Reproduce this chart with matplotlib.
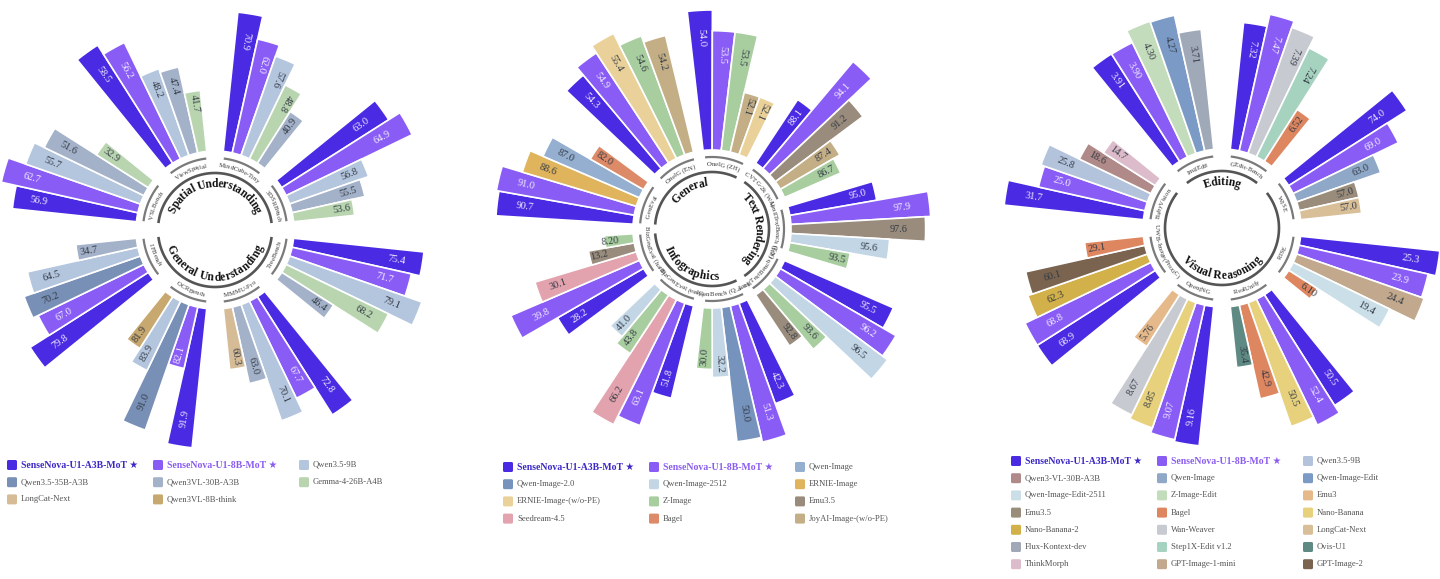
import numpy as np
import matplotlib.pyplot as plt
from matplotlib.font_manager import FontProperties
from matplotlib.patches import FancyBboxPatch

plt.rcParams['font.family'] = ['Liberation Serif', 'DejaVu Sans']

A3B = 'SenseNova-U1-A3B-MoT'
B8 = 'SenseNova-U1-8B-MoT'

# ---------------- understanding
und_cats = ['Spatial Understanding', 'General Understanding']
und_cat_sizes = [4, 4]
und_bench = ['VSI-Bench', 'ViewSpatial', 'MindCube-Tiny', '3DSRBench',
             'TreeBench', 'MMMU-Pro', 'OCRBench', 'IFBench']
und_models = [
    [A3B, B8, 'Qwen3.5-9B', 'Qwen3VL-30B-A3B', 'Gemma-4-26B-A4B'],
    [A3B, B8, 'Qwen3.5-9B', 'Qwen3VL-30B-A3B', 'Gemma-4-26B-A4B'],
    [A3B, B8, 'Qwen3.5-9B', 'Gemma-4-26B-A4B', 'Qwen3VL-30B-A3B'],
    [A3B, B8, 'Qwen3.5-9B', 'Qwen3VL-30B-A3B', 'Gemma-4-26B-A4B'],
    [A3B, B8, 'Qwen3.5-9B', 'Gemma-4-26B-A4B', 'Qwen3VL-30B-A3B'],
    [A3B, B8, 'Qwen3.5-9B', 'Qwen3VL-30B-A3B', 'LongCat-Next'],
    [A3B, B8, 'Qwen3.5-35B-A3B', 'Qwen3.5-9B', 'Qwen3VL-8B-think'],
    [A3B, B8, 'Qwen3.5-35B-A3B', 'Qwen3.5-9B', 'Qwen3VL-30B-A3B'],
]
und_scores = [
    [56.9, 62.7, 55.7, 51.6, 32.9],
    [58.5, 56.2, 48.2, 47.4, 41.7],
    [70.9, 62.0, 57.6, 48.8, 40.9],
    [63.0, 64.9, 56.8, 55.5, 53.6],
    [75.4, 71.7, 79.1, 68.2, 46.4],
    [72.8, 67.7, 70.1, 63.0, 60.3],
    [91.9, 82.1, 91.0, 83.9, 81.9],
    [79.8, 67.0, 70.2, 64.5, 34.7],
]
und_legend = [A3B, B8, 'Qwen3.5-9B', 'Qwen3.5-35B-A3B', 'Qwen3VL-30B-A3B',
              'Gemma-4-26B-A4B', 'LongCat-Next', 'Qwen3VL-8B-think']
und_colors = ['#4a2ae2', '#8a5cf6', '#b4c5de', '#7890b6', '#a3b1c9',
              '#b8d5b0', '#d5bc97', '#c7a86f']

# ---------------- generation
gen_cats = ['General', 'Text Rendering', 'Infographics']
gen_cat_sizes = [3, 3, 3]
gen_bench = ['GenEval', 'OneIG (EN)', 'OneIG (ZH)', 'CVTG-2k (WA)',
             'LongTextBench (EN)', 'LongTextBench (ZH)', 'IGenBench (Q_acc)',
             'BizGenEval (easy)', 'BizGenEval (hard)']
gen_models = [
    [A3B, B8, 'ERNIE-Image', 'Qwen-Image', 'Bagel'],
    [A3B, B8, 'ERNIE-Image-(w/o-PE)', 'Z-Image', 'JoyAI-Image-(w/o-PE)'],
    [A3B, B8, 'Z-Image', 'JoyAI-Image-(w/o-PE)', 'ERNIE-Image-(w/o-PE)'],
    [A3B, B8, 'Emu3.5', 'JoyAI-Image-(w/o-PE)', 'Z-Image'],
    [A3B, B8, 'Emu3.5', 'Qwen-Image-2512', 'Z-Image'],
    [A3B, B8, 'Qwen-Image-2512', 'Z-Image', 'Emu3.5'],
    [A3B, B8, 'Qwen-Image-2.0', 'Qwen-Image-2512', 'Z-Image'],
    [A3B, B8, 'Seedream-4.5', 'Z-Image', 'Qwen-Image-2512'],
    [A3B, B8, 'Seedream-4.5', 'Emu3.5', 'Z-Image'],
]
gen_scores = [
    [90.7, 91.0, 88.6, 87.0, 82.0],
    [54.3, 54.9, 55.4, 54.6, 54.2],
    [54.0, 53.5, 53.5, 52.1, 52.1],
    [88.1, 94.1, 91.2, 87.4, 86.7],
    [95.0, 97.9, 97.6, 95.6, 93.5],
    [95.5, 96.2, 96.5, 93.6, 92.8],
    [42.3, 51.3, 50.0, 32.2, 30.0],
    [51.8, 63.1, 66.2, 43.8, 41.0],
    [28.2, 39.8, 30.1, 13.2, 8.20],
]
gen_legend = [A3B, B8, 'Qwen-Image', 'Qwen-Image-2.0', 'Qwen-Image-2512',
              'ERNIE-Image', 'ERNIE-Image-(w/o-PE)', 'Z-Image', 'Emu3.5',
              'Seedream-4.5', 'Bagel', 'JoyAI-Image-(w/o-PE)']
gen_colors = ['#4a2ae2', '#8a5cf6', '#94afcf', '#7593bd', '#c2d6e6',
              '#e0b45c', '#ead199', '#a8cd9f', '#9a8c7c',
              '#e3a3ae', '#dd8a68', '#c3ae85']

# ---------------- editing / reasoning
edt_cats = ['Editing', 'Visual Reasoning']
edt_cat_sizes = [2, 6]
edt_bench = ['ImgEdit', 'GEdit-Bench', 'WISE', 'RISE', 'RealUnify',
             'OpenING', 'UWB-Image(ProxiC)', 'BabyVision']
edt_models = [
    [A3B, B8, 'Z-Image-Edit', 'Qwen-Image-Edit', 'Flux-Kontext-dev'],
    [A3B, B8, 'Wan-Weaver', 'Step1X-Edit v1.2', 'Bagel'],
    [A3B, B8, 'Qwen-Image', 'Emu3.5', 'LongCat-Next'],
    [A3B, B8, 'GPT-Image-1-mini', 'Qwen-Image-Edit-2511', 'Bagel'],
    [A3B, B8, 'Nano-Banana', 'Bagel', 'Ovis-U1'],
    [A3B, B8, 'Nano-Banana', 'Wan-Weaver', 'Emu3'],
    [A3B, B8, 'Nano-Banana-2', 'GPT-Image-2', 'Bagel'],
    [A3B, B8, 'Qwen3.5-9B', 'Qwen3-VL-30B-A3B', 'ThinkMorph'],
]
edt_scores = [
    [3.91, 3.90, 4.30, 4.27, 3.71],
    [7.32, 7.47, 7.39, 7.24, 6.52],
    [74.0, 69.0, 63.0, 57.0, 57.0],
    [25.3, 23.9, 24.4, 19.4, 6.10],
    [50.5, 52.4, 50.5, 42.9, 35.4],
    [9.16, 9.07, 8.85, 8.67, 5.76],
    [68.9, 68.8, 62.3, 60.1, 29.1],
    [31.7, 25.0, 25.8, 18.6, 14.7],
]
edt_legend = [A3B, B8, 'Qwen3.5-9B', 'Qwen3-VL-30B-A3B', 'Qwen-Image',
              'Qwen-Image-Edit', 'Qwen-Image-Edit-2511', 'Z-Image-Edit', 'Emu3',
              'Emu3.5', 'Bagel', 'Nano-Banana', 'Nano-Banana-2', 'Wan-Weaver',
              'LongCat-Next', 'Flux-Kontext-dev', 'Step1X-Edit v1.2', 'Ovis-U1',
              'ThinkMorph', 'GPT-Image-1-mini', 'GPT-Image-2']
edt_colors = ['#4a2ae2', '#8a5cf6', '#b3c3db', '#b08a88', '#8fa8c8',
              '#7b9bc6', '#cadfe8', '#c3dcbc', '#e6b98a',
              '#9a8c7a', '#dd8660', '#e8d17c', '#d2b04a', '#c7cad0',
              '#d8bf98', '#a0a9b8', '#a6d2c0', '#5f8a84',
              '#dcbccb', '#c2a88c', '#7a6450']

# axis floors that do not follow the default rule
floors = {'OneIG (EN)': 47.0, 'ImgEdit': 0.0}

W, H, DPI = 1440, 579, 100
HALF = 230          # polar radius in px (1 unit = 1 px)
R0, L = 79, 140     # bar start and full bar length
BW = 6.6            # bar width in degrees

fig = plt.figure(figsize=(W / DPI, H / DPI), dpi=DPI)
renderer = fig.canvas.get_renderer()

val_prop = FontProperties(family=['Liberation Serif'], size=7.4)
lab_prop = FontProperties(family=['Liberation Serif'], size=4.9)
cat_prop = FontProperties(family=['Liberation Serif'], size=8.3, weight='bold')


def advance(t, prop):
    w1 = renderer.get_text_width_height_descent(t + '|', prop, ismath=False)[0]
    w0 = renderer.get_text_width_height_descent('|', prop, ismath=False)[0]
    return w1 - w0


def arc_text(ax, s, theta_c, r, prop, color):
    flip = 90 < theta_c % 360 < 270
    total = advance(s, prop)
    size_px = prop.get_size_in_points() * DPI / 72
    rb = r + 0.33 * size_px if flip else r - 0.33 * size_px
    for i, ch in enumerate(s):
        if ch == ' ':
            continue
        mid = (advance(s[:i], prop) + advance(s[:i + 1], prop)) / 2 - total / 2
        d = np.degrees(mid / r)
        th = theta_c - d if flip else theta_c + d
        rot = 180 - th if flip else -th
        ax.text(np.radians(th), rb, ch, rotation=rot, rotation_mode='anchor',
                ha='center', va='baseline', fontproperties=prop, color=color)


def arc(ax, a0, a1, r, color, lw):
    t = np.radians(np.linspace(a0, a1, 80))
    ax.plot(t, np.full_like(t, r), color=color, lw=lw, solid_capstyle='butt')


def fmt(v):
    return f'{v:.2f}' if v < 10 else f'{v:.1f}'


def panel(cx, cy, start, bench, cats, cat_sizes, models, scores, legend, colors):
    ax = fig.add_axes([(cx - HALF) / W, (H - cy - HALF) / H, 2 * HALF / W, 2 * HALF / H],
                      projection='polar')
    ax.set_theta_zero_location('N')
    ax.set_theta_direction(-1)
    ax.set_ylim(0, HALF)
    ax.axis('off')
    step = 360 / len(bench)
    col = dict(zip(legend, colors))
    for i, (b, ms, vs) in enumerate(zip(bench, models, scores)):
        c = start + i * step
        vs = np.array(vs, dtype=float)
        lo = floors.get(b, max(0.0, vs.min() - 0.78 * (vs.max() - vs.min())))
        h = (vs - lo) / (vs.max() - lo) * L
        gw = BW * len(vs)
        th = c - gw / 2 + BW * (np.arange(len(vs)) + 0.5)
        ax.bar(np.radians(th), h, width=np.radians(BW), bottom=R0,
               color=[col[m] for m in ms], edgecolor='white', linewidth=1.2)
        for t, hh, v, m in zip(th, h, vs, ms):
            a = 90 - t
            a = (a + 180) % 360 - 180
            if a > 58:
                a -= 180
            elif a < -90:
                a += 180
            tc = '#f4f0ff' if m in (A3B, B8) else '#333a44'
            ax.text(np.radians(t), R0 + 0.8 * hh, fmt(v), rotation=a,
                    rotation_mode='anchor', ha='center', va='center',
                    fontproperties=val_prop, color=tc)
        arc(ax, c - gw / 2 + 1, c + gw / 2 - 1, 72, '#7a7a7a', 1.6)
        arc_text(ax, b, c, 65, lab_prop, '#333333')
    k = 0
    for name, n in zip(cats, cat_sizes):
        c0 = start + k * step - BW * 5 / 2
        c1 = start + (k + n - 1) * step + BW * 5 / 2
        arc(ax, c0 + 1, c1 - 1, 57, '#555555', 1.9)
        arc_text(ax, name, (c0 + c1) / 2, 47, cat_prop, '#111111')
        k += n


panel(215, 230, -67.5, und_bench, und_cats, und_cat_sizes, und_models,
      und_scores, und_legend, und_colors)
panel(712, 229, -70, gen_bench, gen_cats, gen_cat_sizes, gen_models,
      gen_scores, gen_legend, gen_colors)
panel(1222, 228, -22.5, edt_bench, edt_cats, edt_cat_sizes, edt_models,
      edt_scores, edt_legend, edt_colors)

# legends
lax = fig.add_axes([0, 0, 1, 1])
lax.set_xlim(0, W)
lax.set_ylim(H, 0)
lax.axis('off')
name_colors = {A3B: '#3b27c4', B8: '#8a5cf0'}


def legend(x0, y0, names, colors):
    for k, (n, c) in enumerate(zip(names, colors)):
        x = x0 + (k % 3) * 146
        y = y0 + (k // 3) * 17.2
        lax.add_patch(FancyBboxPatch((x, y - 5), 10, 10,
                                     boxstyle='round,pad=0,rounding_size=1.5',
                                     fc=c, ec='none'))
        if n in name_colors:
            lax.text(x + 14, y, n + ' \u2605', va='center', ha='left', fontsize=7.0,
                     fontweight='bold', color=name_colors[n],
                     family=['Liberation Serif', 'DejaVu Sans'])
        else:
            lax.text(x + 14, y, n, va='center', ha='left', fontsize=6.2,
                     color='#555555')


legend(7, 465, und_legend, und_colors)
legend(503, 467, gen_legend, gen_colors)
legend(1011, 461, edt_legend, edt_colors)

fig.savefig('out.png', dpi=DPI)
